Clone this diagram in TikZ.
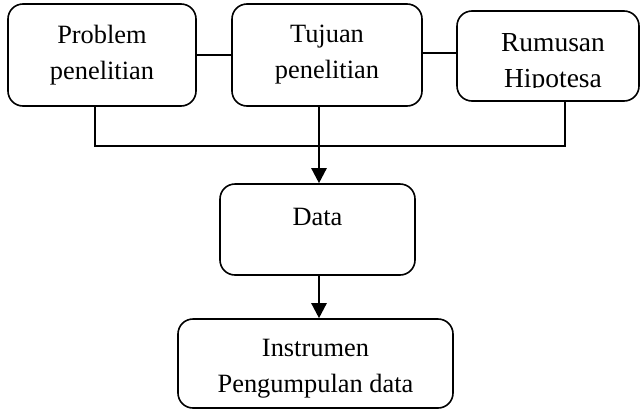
\documentclass[tikz,border=0pt]{standalone}
\usepackage{fontspec}
\setmainfont{Liberation Serif}
\usetikzlibrary{arrows.meta}
\begin{document}
\begin{tikzpicture}[x=1pt,y=-1pt,
  box/.style={draw, line width=1.6pt, rounded corners=15pt, inner sep=0pt},
  txt/.style={align=center, inner sep=0pt, font=\fontsize{26.4}{36}\selectfont},
  link/.style={line width=1.6pt},
  flow/.style={line width=2.4pt, -{Triangle[length=15pt,width=15pt]}}]
\useasboundingbox (0,0) rectangle (642,418);

% top row
\node[box, minimum width=188pt, minimum height=102pt] (b1) at (102,55) {};
\node[txt] (t1) at (102,55) {Problem\\penelitian};
\node[box, minimum width=190pt, minimum height=102pt] (b2) at (327,55) {};
\node[txt] (t2) at (327,55) {Tujuan\\penelitian};
\node[box, minimum width=182pt, minimum height=90pt] (b3) at (548,56) {};
\begin{scope}
  \clip (460,14) rectangle (636,87);
  \node[txt, font=\fontsize{27.5}{36}\selectfont] (t3) at (553,63) {Rumusan\\Hipotesa};
\end{scope}

% middle and bottom
\node[box, minimum width=195pt, minimum height=91pt] (data) at (317.5,229.5) {};
\node[txt] (t4) at (317.5,217) {Data};
\node[box, minimum width=275pt, minimum height=89pt] (instr) at (315.5,363.5) {};
\node[txt] (t5) at (315.5,368.5) {Instrumen\\Pengumpulan data};

% connectors
\draw[link] (b1.east) -- (b2.west);
\draw[link] (b2.east |- 0,53) -- (b3.west |- 0,53);
\coordinate (j1) at (95,146);
\coordinate (j2) at (565,146);
\draw[link] (b1.south -| j1) -- (j1) -- (j2) -- (b3.south -| j2);
\draw[flow] (b2.south -| 319,0) -- (data.north -| 319,0);
\draw[flow] (data.south -| 319,0) -- (instr.north -| 319,0);
\end{tikzpicture}
\end{document}
